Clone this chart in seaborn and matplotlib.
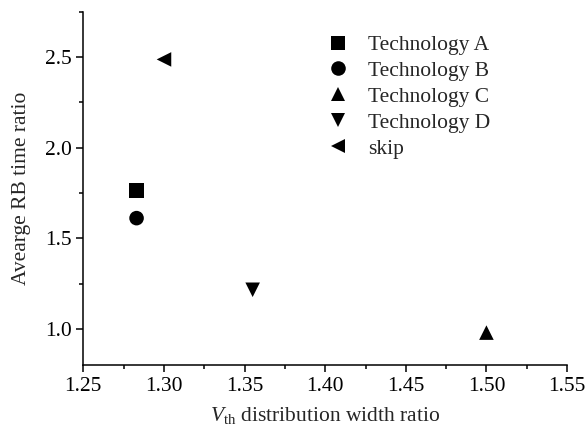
import pandas as pd
import seaborn as sns
import matplotlib
import matplotlib.pyplot as plt
from matplotlib.ticker import MultipleLocator

matplotlib.use('Agg')

sns.set_style('ticks')
plt.rcParams['font.family'] = ['Liberation Serif', 'DejaVu Serif']
plt.rcParams['mathtext.fontset'] = 'custom'
plt.rcParams['mathtext.rm'] = 'Liberation Serif'
plt.rcParams['mathtext.it'] = 'Liberation Serif:italic'
plt.rcParams['font.size'] = 15.5

# values
labels = ['Technology A', 'Technology B', 'Technology C', 'Technology D', 'skip']
width_ratio = [1.283, 1.283, 1.500, 1.355, 1.300]
rb_time_ratio = [1.765, 1.612, 0.981, 1.217, 2.487]
marker_map = {'Technology A': 's', 'Technology B': 'o', 'Technology C': '^',
              'Technology D': 'v', 'skip': '<'}

plotData = pd.DataFrame({'tech': labels, 'x': width_ratio, 'y': rb_time_ratio})

fig = plt.figure(figsize=(5.87, 4.34), dpi=100)
ax = fig.add_axes([0.142, 0.158, 0.824, 0.815])

sns.scatterplot(data=plotData, x='x', y='y', style='tech', style_order=labels,
                markers=marker_map, color='black', s=110, edgecolor='none',
                linewidth=0, ax=ax)

# rebuild the legend without a title and without a frame
handles, _ = ax.get_legend_handles_labels()
ax.legend(handles[-len(labels):], labels, loc='upper left', bbox_to_anchor=(0.504, 0.934),
          frameon=False, fontsize=15.5, handlelength=1.0, handletextpad=0.89,
          labelspacing=0.27, borderpad=0, borderaxespad=0)

ax.set(xlim=(1.25, 1.55), ylim=(0.8, 2.75))
ax.xaxis.set_major_locator(MultipleLocator(0.05))
ax.xaxis.set_minor_locator(MultipleLocator(0.025))
ax.yaxis.set_major_locator(MultipleLocator(0.5))
ax.yaxis.set_minor_locator(MultipleLocator(0.25))
ax.xaxis.set_major_formatter(matplotlib.ticker.FormatStrFormatter('%.2f'))
ax.yaxis.set_major_formatter(matplotlib.ticker.FormatStrFormatter('%.1f'))
ax.set_yticks([1.0, 1.5, 2.0, 2.5])

ax.set_xlabel(r'$V_{\rm th}$ distribution width ratio', fontsize=15.5, labelpad=6)
ax.set_ylabel('Avearge RB time ratio', fontsize=15.5, labelpad=10)

sns.despine(ax=ax)
for side in ['left', 'bottom']:
    ax.spines[side].set_linewidth(1.1)
    ax.spines[side].set_color('black')
ax.tick_params(which='major', direction='out', length=5, width=1.1, colors='black',
               labelsize=15.5)
ax.tick_params(which='minor', direction='out', length=3, width=1.1, colors='black')

fig.savefig('out.png', dpi=100)
